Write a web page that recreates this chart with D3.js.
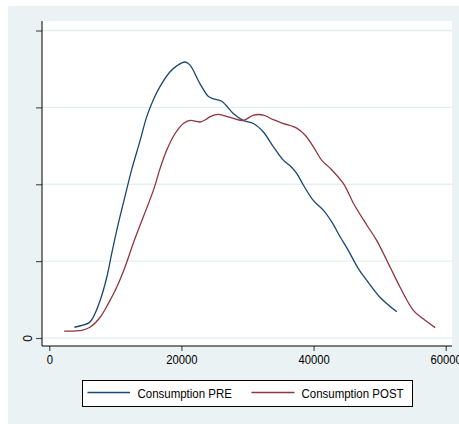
<!DOCTYPE html>
<html>
<head>
<meta charset="utf-8">
<script src="https://cdn.jsdelivr.net/npm/d3@7"></script>
<style>
  html, body { margin: 0; padding: 0; background: #ffffff; }
  svg { display: block; }
  text { font-family: "Liberation Sans", Arial, Helvetica, sans-serif; fill: #000; }
</style>
</head>
<body>
<svg id="chart" width="459" height="424"></svg>
<script>
// Kernel density of consumption, before (PRE) and after (POST); density in units of 1e-5
const preConsumption = [3800, 6050, 6650, 7700, 8700, 9450, 10450, 11450, 12500, 13750, 14750, 15750,
  16750, 18250, 19300, 20550, 21300, 22800, 24100, 24850, 26100, 27850, 29350, 30900, 32400,
  33900, 35450, 36450, 37450, 38450, 39950, 41500, 42750, 44000, 45250, 46800, 48050, 50050, 52600];
const preDensity = [0.14, 0.20, 0.27, 0.49, 0.79, 1.10, 1.49, 1.84, 2.20, 2.57, 2.88, 3.10,
  3.27, 3.46, 3.54, 3.59, 3.55, 3.31, 3.14, 3.11, 3.08, 2.92, 2.83, 2.79, 2.68,
  2.49, 2.31, 2.24, 2.14, 1.99, 1.79, 1.66, 1.51, 1.32, 1.14, 0.90, 0.75, 0.53, 0.34];

const postConsumption = [2250, 4900, 6150, 7700, 8950, 10200, 11450, 12700, 14250, 15750, 16750, 17750,
  19050, 20300, 21300, 22800, 23850, 24350, 25600, 27350, 29350, 30900, 32400, 33900, 35450, 37450,
  38700, 39950, 41250, 42500, 44500, 46050, 48050, 49550, 51600, 53100, 55100, 56600, 58400];
const postDensity = [0.09, 0.10, 0.14, 0.27, 0.45, 0.66, 0.92, 1.23, 1.58, 1.92, 2.20, 2.44,
  2.66, 2.79, 2.83, 2.81, 2.85, 2.88, 2.91, 2.87, 2.83, 2.90, 2.90, 2.84, 2.79, 2.73,
  2.64, 2.49, 2.31, 2.21, 2.01, 1.75, 1.47, 1.27, 0.92, 0.66, 0.36, 0.25, 0.135];

const xTicks = [0, 20000, 40000, 60000];
const xTickLabels = ["0", "20000", "40000", "60000"];
const yTicks = [0, 1, 2, 3, 4];
const yTickLabels = ["0", "", "", "", ""];

const seriesNames = ["Consumption PRE", "Consumption POST"];
const seriesColors = ["#1a476f", "#90353b"];

const svg = d3.select("#chart");

// graph region and plot region
const outer = { left: 8, top: 6, right: 459, bottom: 424 };
const plot = { left: 42, top: 21, right: 452, bottom: 346 };

svg.append("rect")
  .attr("x", outer.left).attr("y", outer.top)
  .attr("width", outer.right - outer.left).attr("height", outer.bottom - outer.top)
  .attr("fill", "#eaf2f3");

svg.append("rect")
  .attr("x", plot.left).attr("y", plot.top)
  .attr("width", plot.right - plot.left).attr("height", plot.bottom - plot.top)
  .attr("fill", "#ffffff");

const x = d3.scaleLinear().domain([0, 60000]).range([49.3, 445.7]);
const y = d3.scaleLinear().domain([0, 4]).range([338, 30.5]);

// horizontal grid lines
svg.append("g").selectAll("line")
  .data(yTicks)
  .join("line")
  .attr("x1", plot.left).attr("x2", plot.right)
  .attr("y1", d => y(d)).attr("y2", d => y(d))
  .attr("stroke", "#e6eff0")
  .attr("stroke-width", 1.3);

// narrow a label to the condensed look of the axis font
function condense(sel, factor) {
  sel.each(function () {
    const t = d3.select(this);
    if (!t.text()) return;
    const w = this.getComputedTextLength();
    t.attr("textLength", w * factor).attr("lengthAdjust", "spacingAndGlyphs");
  });
}

// x axis
const xAxis = d3.axisBottom(x)
  .tickValues(xTicks)
  .tickFormat((d, i) => xTickLabels[i])
  .tickSize(5)
  .tickSizeOuter(0)
  .tickPadding(4);

const gx = svg.append("g")
  .attr("transform", `translate(0,${plot.bottom})`)
  .call(xAxis);
gx.select(".domain").remove();
gx.selectAll(".tick line").attr("stroke", "#333").attr("stroke-width", 1);
gx.selectAll(".tick text")
  .attr("font-size", 12.5)
  .attr("font-family", "Liberation Sans, Arial, sans-serif")
  .attr("fill", "#000")
  .attr("dy", "0.71em")
  .attr("y", 9)
  .call(condense, 0.9);
gx.append("line")
  .attr("x1", plot.left).attr("x2", plot.right)
  .attr("y1", 0).attr("y2", 0)
  .attr("stroke", "#000").attr("stroke-width", 1);

// y axis
const yAxis = d3.axisLeft(y)
  .tickValues(yTicks)
  .tickFormat((d, i) => yTickLabels[i])
  .tickSize(6)
  .tickSizeOuter(0)
  .tickPadding(4);

const gy = svg.append("g")
  .attr("transform", `translate(${plot.left},0)`)
  .call(yAxis);
gy.select(".domain").remove();
gy.selectAll(".tick line").attr("stroke", "#555").attr("stroke-width", 1.2);
gy.selectAll(".tick text")
  .attr("font-size", 12)
  .attr("font-family", "Liberation Sans, Arial, sans-serif")
  .attr("fill", "#000")
  .attr("text-anchor", "middle")
  .attr("x", null)
  .attr("dy", null)
  .attr("transform", "translate(-10,0) rotate(-90)");
gy.append("line")
  .attr("x1", 0).attr("x2", 0)
  .attr("y1", plot.top).attr("y2", plot.bottom)
  .attr("stroke", "#000").attr("stroke-width", 1);

// density curves
const line = d3.line()
  .x(d => x(d[0]))
  .y(d => y(d[1]))
  .curve(d3.curveCatmullRom.alpha(0.5));

const series = [
  d3.zip(preConsumption, preDensity),
  d3.zip(postConsumption, postDensity)
];

svg.append("g").selectAll("path")
  .data(series)
  .join("path")
  .attr("d", line)
  .attr("fill", "none")
  .attr("stroke", (d, i) => seriesColors[i])
  .attr("stroke-width", 1.3)
  .attr("stroke-linejoin", "round");

// legend
const legend = svg.append("g");
legend.append("rect")
  .attr("x", 82.5).attr("y", 380.5)
  .attr("width", 330).attr("height", 26)
  .attr("fill", "#ffffff")
  .attr("stroke", "#000")
  .attr("stroke-width", 1);

const legendItems = [
  { x1: 87.5, x2: 130, tx: 137.5 },
  { x1: 251.5, x2: 294.5, tx: 301.5 }
];

legendItems.forEach((it, i) => {
  legend.append("line")
    .attr("x1", it.x1).attr("x2", it.x2)
    .attr("y1", 392.5).attr("y2", 392.5)
    .attr("stroke", seriesColors[i])
    .attr("stroke-width", 1.3);
  legend.append("text")
    .attr("x", it.tx).attr("y", 398.3)
    .attr("font-size", 13.5)
    .text(seriesNames[i])
    .call(condense, 0.85);
});
</script>
</body>
</html>
